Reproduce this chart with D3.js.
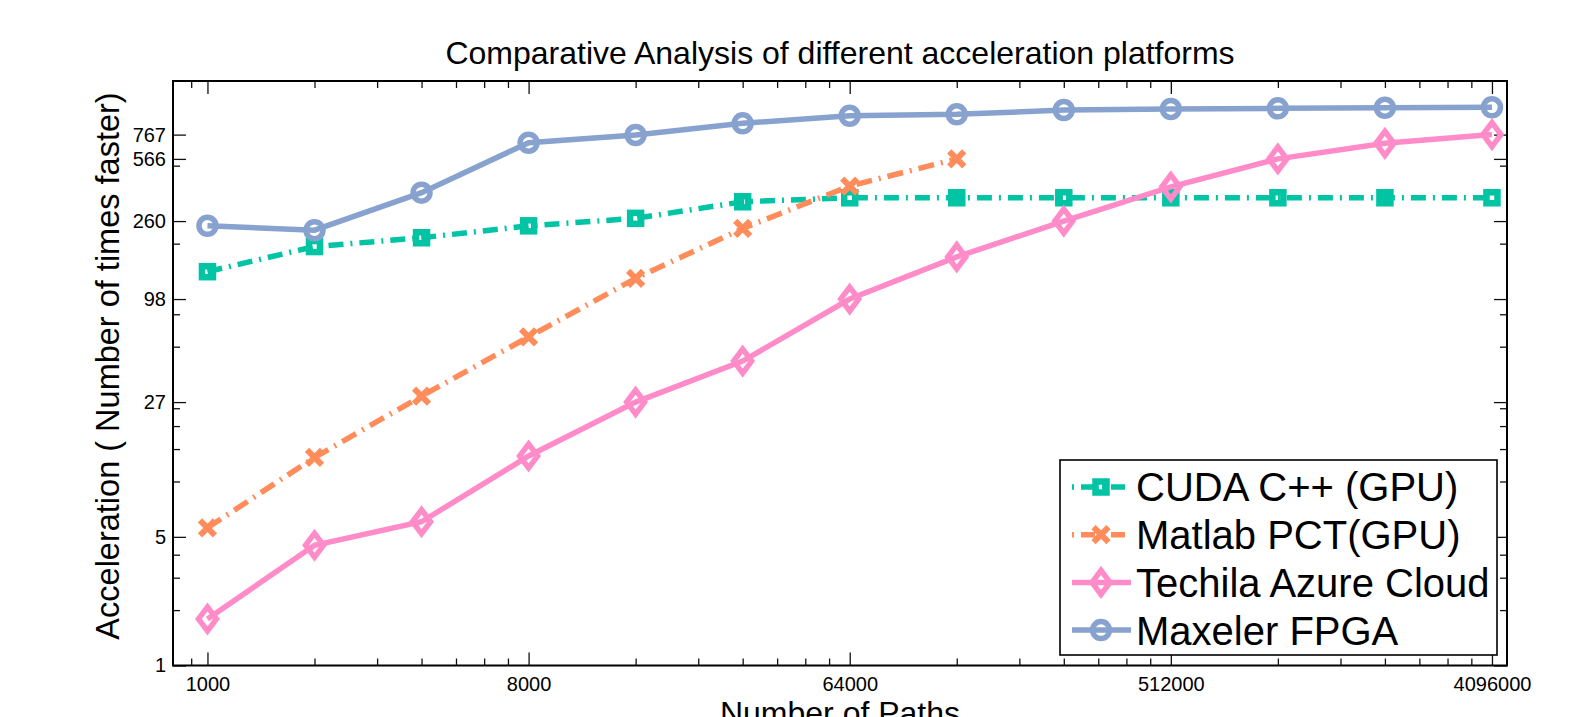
<!DOCTYPE html>
<html>
<head>
<meta charset="utf-8">
<script src="https://cdn.jsdelivr.net/npm/d3@7"></script>
<style>
body{margin:0;background:#fff;}
svg{display:block;font-family:"Liberation Sans",Arial,Helvetica,sans-serif;}
.axis path{display:none;}
.axis line{stroke:#111;stroke-width:1.3;}
.axis text{font-size:20px;fill:#000;font-family:"Liberation Sans",Arial,Helvetica,sans-serif;}
</style>
</head>
<body>
<svg></svg>
<script>
// number of paths (x)
var paths = [1000,2000,4000,8000,16000,32000,64000,128000,256000,512000,1024000,2048000,4096000];

// acceleration values
var cudaVals    = [138,189,211,245,269,331,348,348,348,348,348,348,348];
var matlabVals  = [5.6,13.5,29.1,61,127,237,403,566];
var techilaVals = [1.79,4.5,6.04,13.75,27,45.1,98,166,260,399,566,688,767];
var maxelerVals = [245,232,371,693,763,883,971,988,1043,1056,1065,1073,1079];

var seriesNames = ["CUDA C++ (GPU)","Matlab PCT(GPU)","Techila Azure Cloud","Maxeler FPGA"];

var xTicks = [1000,8000,64000,512000,4096000];
var yTicks = [1,5,27,98,260,566,767];
var xExtraMinor = [900];

var xDomain = [800,4515000];
var yDomain = [1,1500];

var seriesStyle = [
    {color:"#00c4a4", dash:"15,7,2,7", marker:"square"},
    {color:"#ff8c5a", dash:"16,7,2,7", marker:"cross"},
    {color:"#ff8cc8", dash:null, marker:"diamond"},
    {color:"#88a2cf", dash:null, marker:"circle"}
];

var makeTranslateString = function(x,y)
{
    return "translate("+x+","+y+")";
}

// minor ticks: multiples of each major until the next major
var minorTicks = function(majors,hi)
{
    var out = [];
    for(var i=0;i<majors.length;i++)
    {
        var next = (i+1<majors.length) ? majors[i+1] : hi;
        for(var k=2; majors[i]*k<next; k++) { out.push(majors[i]*k); }
    }
    return out;
}

var drawMarker = function(g,type,x,y,color)
{
    if(type=="circle")
    {
        g.append("circle").attr("cx",x).attr("cy",y).attr("r",8.5)
            .attr("fill","none").attr("stroke",color).attr("stroke-width",5.5);
    }
    else if(type=="square")
    {
        g.append("rect").attr("x",x-5.5).attr("y",y-5.5)
            .attr("width",11).attr("height",11)
            .attr("fill","none").attr("stroke",color).attr("stroke-width",6.5);
    }
    else if(type=="diamond")
    {
        g.append("path")
            .attr("d","M"+x+","+(y-12)+"L"+(x+9)+","+y+"L"+x+","+(y+12)+"L"+(x-9)+","+y+"Z")
            .attr("fill","none").attr("stroke",color).attr("stroke-width",5.5);
    }
    else
    {
        g.append("path")
            .attr("d","M"+(x-7.5)+","+(y-7.5)+"L"+(x+7.5)+","+(y+7.5)+"M"+(x-7.5)+","+(y+7.5)+"L"+(x+7.5)+","+(y-7.5))
            .attr("fill","none").attr("stroke",color).attr("stroke-width",6);
    }
}

var drawLines = function(allSeries,target,xScale,yScale)
{
    var lineGenerator = d3.line()
        .x(function(d){return xScale(d.x);})
        .y(function(d){return yScale(d.y);})

    allSeries.forEach(function(s,i)
    {
        var st = seriesStyle[i];
        var g = target.append("g").classed("series",true);
        g.append("path")
            .datum(s)
            .attr("d",lineGenerator)
            .attr("fill","none")
            .attr("stroke",st.color)
            .attr("stroke-width",5.5)
            .attr("stroke-dasharray",st.dash);
        s.forEach(function(d)
        {
            drawMarker(g,st.marker,xScale(d.x),yScale(d.y),st.color);
        })
    })
}

var drawAxes = function(graphDim,margins,xScale,yScale)
{
    var axes = d3.select("svg").append("g")
    var fmt = d3.format("d");
    var xMinor = xExtraMinor.concat(minorTicks(xTicks,xDomain[1]));
    var yMinor = minorTicks(yTicks,yDomain[1]);

    var makeAxis = function(fn,scale,vals,size,labels,tx,ty)
    {
        axes.append("g").classed("axis",true)
            .attr("transform",makeTranslateString(tx,ty))
            .call(fn(scale).tickValues(vals).tickSize(-size)
                .tickPadding(fn==d3.axisBottom ? 11 : 7)
                .tickFormat(labels ? fmt : ""));
    }
    var bottomY = margins.top+graphDim.height;
    var rightX = margins.left+graphDim.width;

    makeAxis(d3.axisBottom,xScale,xTicks,13,true,margins.left,bottomY);
    makeAxis(d3.axisBottom,xScale,xMinor,7,false,margins.left,bottomY);
    makeAxis(d3.axisTop,xScale,xTicks,13,false,margins.left,margins.top);
    makeAxis(d3.axisTop,xScale,xMinor,7,false,margins.left,margins.top);
    makeAxis(d3.axisLeft,yScale,yTicks,13,true,margins.left,margins.top);
    makeAxis(d3.axisLeft,yScale,yMinor,7,false,margins.left,margins.top);
    makeAxis(d3.axisRight,yScale,yTicks,13,false,rightX,margins.top);
    makeAxis(d3.axisRight,yScale,yMinor,7,false,rightX,margins.top);

    axes.append("rect")
        .attr("x",margins.left).attr("y",margins.top)
        .attr("width",graphDim.width).attr("height",graphDim.height)
        .attr("fill","none").attr("stroke","#000").attr("stroke-width",2);
}

var drawLabels = function(graphDim,margins)
{
    var labels = d3.select("svg").append("g").classed("labels",true)

    labels.append("text")
        .text("Comparative Analysis of different acceleration platforms")
        .attr("text-anchor","middle")
        .attr("font-size",32)
        .attr("x",margins.left+graphDim.width/2)
        .attr("y",64);

    labels.append("text")
        .text("Number of Paths")
        .attr("text-anchor","middle")
        .attr("font-size",32)
        .attr("x",margins.left+graphDim.width/2)
        .attr("y",724);

    labels.append("g")
        .attr("transform","translate(119,366)")
        .append("text")
        .text("Acceleration ( Number of times faster)")
        .attr("text-anchor","middle")
        .attr("font-size",32.5)
        .attr("transform","rotate(-90)");
}

var drawLegend = function()
{
    var leg = d3.select("svg").append("g").classed("legend",true)
    leg.append("rect")
        .attr("x",1060).attr("y",460).attr("width",437).attr("height",195)
        .attr("fill","#fff").attr("stroke","#000").attr("stroke-width",1.6);

    seriesNames.forEach(function(name,i)
    {
        var st = seriesStyle[i];
        var cy = 487 + i*47.7;
        var g = leg.append("g");
        g.append("line")
            .attr("x1",1072).attr("x2",1131).attr("y1",cy).attr("y2",cy)
            .attr("stroke",st.color).attr("stroke-width",5.5)
            .attr("stroke-dasharray",st.dash ? "2,7,14,7" : null);
        drawMarker(g,st.marker,1101,cy,st.color);
        g.append("text")
            .text(name)
            .attr("x",1136).attr("y",cy)
            .attr("dy","0.36em")
            .attr("font-size",40);
    })
}

var initGraph = function()
{
    var screen = {width:1575,height:717}
    var margins = {left:173,right:68,top:81,bottom:51.5}
    var graph =
        {
            width:screen.width-margins.left-margins.right,
            height:screen.height-margins.top-margins.bottom
        }

    d3.select("svg")
        .attr("width",screen.width)
        .attr("height",screen.height)

    var xScale = d3.scaleLog().domain(xDomain).range([0,graph.width])
    var yScale = d3.scaleLog().domain(yDomain).range([graph.height,0])

    var allSeries = [cudaVals,matlabVals,techilaVals,maxelerVals].map(function(vals)
    {
        return vals.map(function(v,j){ return {x:paths[j],y:v}; });
    })

    drawAxes(graph,margins,xScale,yScale);

    var target = d3.select("svg")
        .append("g")
        .attr("id","graph")
        .attr("transform",makeTranslateString(margins.left,margins.top));

    drawLines(allSeries,target,xScale,yScale);
    drawLabels(graph,margins);
    drawLegend();
}

initGraph();
</script>
</body>
</html>
